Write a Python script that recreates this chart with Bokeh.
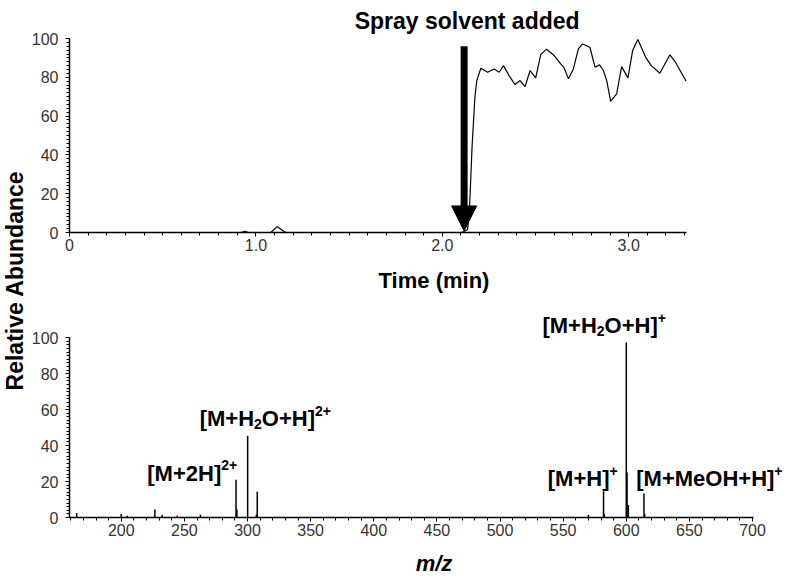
import math
from bokeh.plotting import figure
from bokeh.models import Range1d, FixedTicker, Label, Arrow, NormalHead, ColumnDataSource
from bokeh.layouts import row, column
from bokeh.embed import file_html
from bokeh.resources import INLINE

# ---------------- data ----------------
# Chromatogram (time in min, relative abundance)
time_min = [0.0, 0.92, 0.94, 0.96, 1.08, 1.114, 1.16, 2.10, 2.117, 2.135, 2.145, 2.16,
            2.175, 2.185, 2.207, 2.243, 2.278, 2.305, 2.328, 2.358, 2.39, 2.417, 2.444,
            2.471, 2.501, 2.528, 2.559, 2.60, 2.635, 2.653, 2.677, 2.703, 2.73, 2.752,
            2.792, 2.819, 2.844, 2.864, 2.882, 2.903, 2.935, 2.962, 2.996, 3.021, 3.049,
            3.091, 3.121, 3.167, 3.221, 3.251, 3.308]
tic_abundance = [0, 0, 0.6, 0, 0, 3.0, 0, 0, 0.5, 1.5, 10, 45,
                 70, 78.3, 84.7, 82.6, 84.3, 82.6, 86.0, 80.9, 76.3, 78.3, 75.2,
                 83.5, 79.7, 91.7, 94.5, 91.2, 86.9, 85.0, 79.2, 84.3, 94.7, 97.2,
                 95.5, 85.2, 86.4, 83.5, 78.3, 67.6, 71.4, 85.5, 79.7, 93.8, 99.5,
                 90.3, 86.0, 82.1, 91.6, 87.8, 78.0]
solvent_time = 2.117
time_axis_end = 3.31

# Mass spectrum (m/z, relative abundance)
mz = [164.7, 200.0, 204.7, 226.6, 232.4, 244.3, 262.7, 290.9, 291.6, 300.1, 307.0,
      307.7, 570.0, 582.0, 582.6, 600.0, 600.6, 601.6, 614.0, 614.6]
intensity = [2.5, 2.0, 1.0, 4.5, 1.5, 1.0, 1.5, 21.0, 4.5, 45.5, 1.5,
             14.3, 1.5, 14.6, 2.0, 97.3, 25.0, 7.0, 13.3, 2.0]
mz_axis_start = 159
mz_axis_end = 701

# Ticks
time_ticks = [0, 1, 2, 3]
time_tick_labels = ["0", "1.0", "2.0", "3.0"]
abund_ticks = [0, 20, 40, 60, 80, 100]
mz_ticks = [200, 250, 300, 350, 400, 450, 500, 550, 600, 650, 700]

# Ion annotations: anchor (m/z, abundance) of the left baseline, and text parts
ion_mz = [220.6, 262.1, 533.6, 537.8, 607.9]
ion_y = [24.5, 54.9, 106.5, 21.5, 21.5]
ion_parts = [
    [("[M+2H]", "n"), ("2+", "sup")],
    [("[M+H", "n"), ("2", "sub"), ("O+H]", "n"), ("2+", "sup")],
    [("[M+H", "n"), ("2", "sub"), ("O+H]", "n"), ("+", "sup")],
    [("[M+H]", "n"), ("+", "sup")],
    [("[M+MeOH+H]", "n"), ("+", "sup")],
]

FONT = "Liberation Sans"
ADV = {'[': 333, ']': 333, 'M': 833, '+': 584, 'H': 722, 'O': 778, '2': 556, 'e': 556}

# ---------------- layout sizes (px) ----------------
STRIP_W = 28
LEFT = 41
FIG_W = 770
FRAME_W = FIG_W - LEFT
TOP_H = 300
TOP_FRAME_H = 232
TOP_PX_PER_100 = 194.0
TOP_PX_PER_MIN = 617.0 / time_axis_end
BOT_H = 278
BOT_FRAME_H = 220
BOT_PX_PER_100 = 182.3
BOT_PX_PER_MZ = 684.3 / (mz_axis_end - mz_axis_start)


def style_axes(p):
    for ax in p.axis:
        ax.axis_line_color = "black"
        ax.axis_line_width = 1.5
        ax.major_tick_line_color = "black"
        ax.minor_tick_line_color = "black"
        ax.major_tick_in = 0
        ax.major_tick_out = 4
        ax.minor_tick_in = 0
        ax.minor_tick_out = 3
        ax.major_label_text_font = FONT
        ax.major_label_text_font_size = "16px"
        ax.major_label_text_color = "#333333"
        ax.major_label_standoff = 2
        ax.axis_label_text_font = FONT
        ax.axis_label_text_font_style = "bold"
        ax.axis_label_text_font_size = "22px"
        ax.axis_label_text_color = "black"
    for ax in p.yaxis:
        ax.major_label_standoff = 7
    p.xgrid.visible = False
    p.ygrid.visible = False
    p.outline_line_color = None


def add_ion(p, x, y, parts):
    off = 0.0
    for txt, kind in parts:
        size = 22 if kind == "n" else 14
        yoff = 0 if kind == "n" else (-5 if kind == "sub" else 8)
        p.add_layout(Label(x=x, y=y, x_offset=off, y_offset=yoff, text=txt,
                           text_font=FONT, text_font_style="bold",
                           text_font_size=f"{size}px", text_baseline="alphabetic",
                           text_align="left", text_color="black"))
        off += sum(ADV[c] for c in txt) / 1000.0 * size


# ---------------- y label strip ----------------
strip_h = TOP_H + BOT_H
lab = figure(width=STRIP_W, height=strip_h, x_range=Range1d(0, STRIP_W),
             y_range=Range1d(0, strip_h), output_backend="svg", toolbar_location=None,
             min_border=0, x_axis_location=None, y_axis_location=None)
lab.xgrid.visible = False
lab.ygrid.visible = False
lab.outline_line_color = None
lab.add_layout(Label(x=14, y=strip_h - 280, text="Relative Abundance", angle=math.pi / 2,
                     text_align="center", text_baseline="middle", text_font=FONT,
                     text_font_style="bold", text_font_size="23px", text_color="black"))

# ---------------- top: chromatogram ----------------
top_y_end = 100 * TOP_FRAME_H / TOP_PX_PER_100
top_x_end = FRAME_W / TOP_PX_PER_MIN
top = figure(width=FIG_W, height=TOP_H, x_range=Range1d(0, top_x_end),
             y_range=Range1d(0, top_y_end), output_backend="svg", toolbar_location=None,
             min_border_left=LEFT, min_border_right=0,
             min_border_top=0, min_border_bottom=TOP_H - TOP_FRAME_H)
top.line(time_min, tic_abundance, line_color="black", line_width=1.2)
style_axes(top)
top.xaxis.ticker = FixedTicker(ticks=time_ticks,
                               minor_ticks=[i / 10 for i in range(0, 34)])
top.xaxis.major_label_overrides = {t: s for t, s in zip(time_ticks, time_tick_labels)}
top.xaxis.bounds = (0, time_axis_end)
top.yaxis.ticker = FixedTicker(ticks=abund_ticks, minor_ticks=list(range(0, 101, 2)))
top.yaxis.bounds = (0, 100)
top.xaxis.axis_label = "Time (min)"
top.xaxis.axis_label_standoff = 14
top.add_layout(Arrow(end=NormalHead(size=25, fill_color="black", line_color="black"),
                     x_start=solvent_time, y_start=96, x_end=solvent_time, y_end=0.8,
                     line_width=7, line_color="black"))
top.add_layout(Label(x=solvent_time, y=109.0, x_offset=3, text="Spray solvent added",
                     text_align="center", text_baseline="alphabetic", text_font=FONT,
                     text_font_style="bold", text_font_size="23px", text_color="black"))

# ---------------- bottom: mass spectrum ----------------
bot_x_end = mz_axis_start + FRAME_W / BOT_PX_PER_MZ
bot_y_end = 100 * BOT_FRAME_H / BOT_PX_PER_100
bot = figure(width=FIG_W, height=BOT_H, x_range=Range1d(mz_axis_start, bot_x_end),
             y_range=Range1d(0, bot_y_end), output_backend="svg", toolbar_location=None,
             min_border_left=LEFT, min_border_right=0, min_border_top=0,
             min_border_bottom=BOT_H - BOT_FRAME_H)
src = ColumnDataSource(dict(mz=mz, base=[0] * len(mz), inten=intensity))
bot.segment(x0="mz", y0="base", x1="mz", y1="inten", source=src,
            line_color="black", line_width=1.5)
style_axes(bot)
bot.xaxis.ticker = FixedTicker(ticks=mz_ticks, minor_ticks=list(range(160, 701, 10)))
bot.xaxis.bounds = (mz_axis_start, mz_axis_end)
bot.yaxis.ticker = FixedTicker(ticks=abund_ticks, minor_ticks=list(range(0, 101, 2)))
bot.yaxis.bounds = (0, 100)
bot.xaxis.axis_label = "m/z"
bot.xaxis.axis_label_text_font_style = "bold italic"
bot.xaxis.axis_label_standoff = 12
for x, y, parts in zip(ion_mz, ion_y, ion_parts):
    add_ion(bot, x, y, parts)

layout = row(lab, column(top, bot))
open("out.html", "w").write(file_html(layout, INLINE))
